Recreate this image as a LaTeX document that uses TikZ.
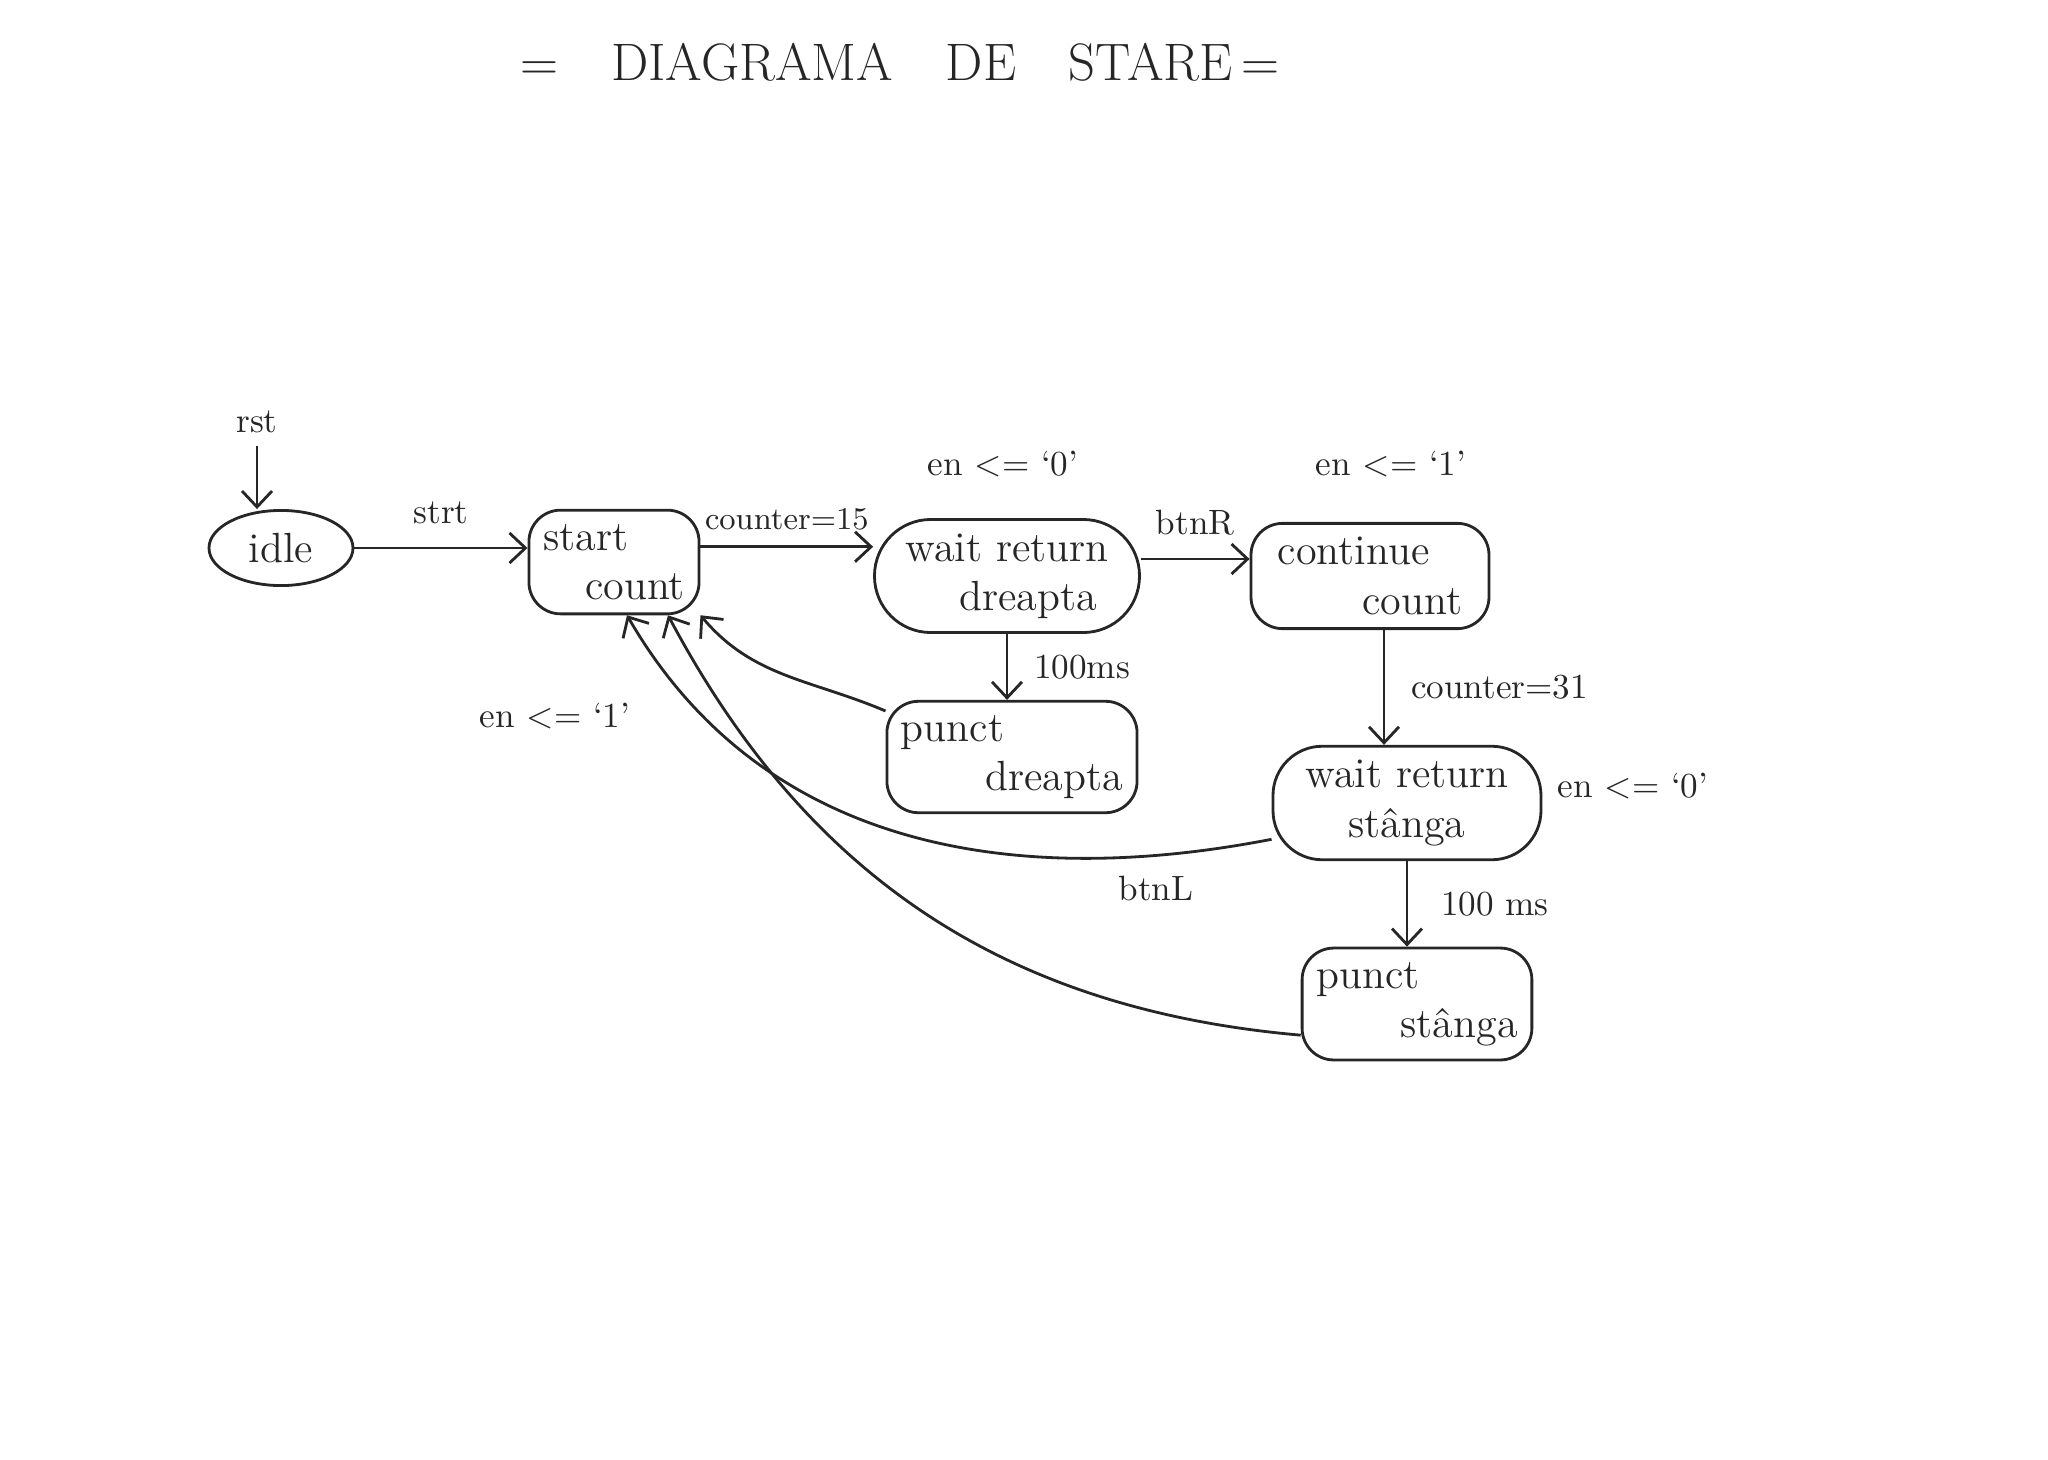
\documentclass[tikz,border=0pt]{standalone}
\usetikzlibrary{shapes.geometric,arrows.meta}
\begin{document}
\begin{tikzpicture}[line width=0.8pt,black!85,>={Straight Barb[length=1.6mm,width=3mm]},
  stare/.style={draw,rounded corners=9pt,align=left,inner sep=4pt,font=\large},
  eticheta/.style={font=\normalsize}]
\useasboundingbox (0,0) rectangle (20.48,-14.60);
\node[font=\fontsize{15}{18}\selectfont] (titlu) at (9.0,-0.62) {=\quad DIAGRAMA\quad DE\quad STARE\,=};
% stari
\node[draw,ellipse,minimum width=1.44cm,minimum height=0.65cm,font=\large] (idle) at (2.81,-5.48) {idle};
\node[stare,minimum width=1.69cm,minimum height=0.87cm] (start) at (6.14,-5.62) {start\\\quad count};
\node[stare,rounded corners=16pt,align=center,minimum width=2.65cm,minimum height=1.10cm] (wrd) at (10.07,-5.76) {wait return\\\quad dreapta};
\node[stare,minimum width=2.38cm,minimum height=0.98cm] (cont) at (13.70,-5.76) {continue\\\qquad count};
\node[stare,minimum width=2.27cm,minimum height=1.05cm] (pdr) at (10.12,-7.57) {punct\\\qquad dreapta};
\node[stare,rounded corners=14pt,align=center,minimum width=2.68cm,minimum height=1.11cm] (wrs) at (14.07,-8.03) {wait return\\stânga};
\node[stare,minimum width=2.22cm,minimum height=1.02cm] (pst) at (14.17,-10.04) {punct\\\qquad stânga};
% iesiri
\node[eticheta] (en1) at (10.03,-4.64) {en <= `0'};
\node[eticheta] (en2) at (13.91,-4.64) {en <= `1'};
\node[eticheta] (en3) at (16.33,-7.86) {en <= `0'};
\node[eticheta] (en4) at (5.55,-7.16) {en <= `1'};
% tranzitii
\node[eticheta] (rst) at (2.57,-4.22) {rst};
\draw[->] (rst) -- (rst |- idle.north);
\draw[->] (idle.east) -- node[eticheta,above=3pt] (lstrt) {strt} (idle.east -| start.west);
\draw[->] (start.10) -- node[eticheta,font=\small,above=1pt] (lc15) {counter=15} (start.10 -| wrd.west);
\draw[->] ([yshift=0.17cm]wrd.east) -- node[eticheta,above=3pt] (lbtnr) {btnR} ([yshift=0.17cm]wrd.east -| cont.west);
\draw[->] (wrd.south) -- node[eticheta,right=4pt] (l100a) {100ms} (wrd.south |- pdr.north);
\draw[->] ([xshift=0.14cm]cont.south) -- node[eticheta,right=4pt] (lc31) {counter=31} ([xshift=0.14cm]cont.south |- wrs.north);
\draw[->] (wrs.south) -- node[eticheta,right=6pt] (l100b) {100 ms} (wrs.south |- pst.north);
\draw[->] (pdr.160) to[out=157,in=-50] (start.south east);
\draw[->] (wrs.195) to[out=191,in=-60] ([xshift=0.13cm]start.south);
\draw[->] (pst.195) to[out=175,in=-62] ([xshift=0.54cm]start.south);
\node[eticheta] (lbtnl) at (11.56,-8.88) {btnL};
\end{tikzpicture}
\end{document}
